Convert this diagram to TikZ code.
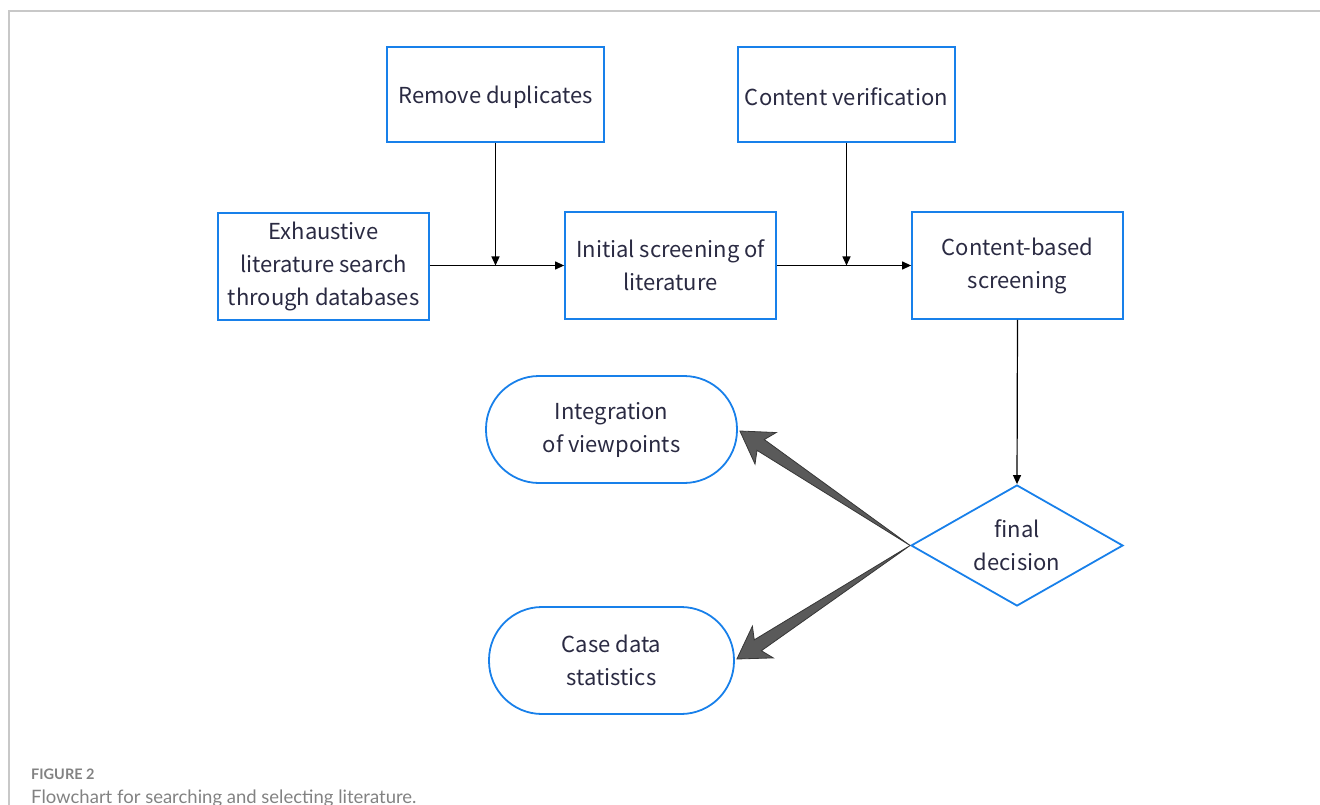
\documentclass[tikz,border=0pt]{standalone}
\usepackage{fontspec}
\newfontfamily\boxfont{Noto Sans CJK SC}
\newfontfamily\capfont{Lato}
\usetikzlibrary{arrows.meta,shapes.geometric,calc}
\definecolor{boxblue}{RGB}{24,128,234}
\definecolor{txt}{RGB}{42,42,66}
\definecolor{framegray}{RGB}{200,200,200}
\definecolor{capgray}{RGB}{130,130,130}
\definecolor{arrfill}{RGB}{90,90,90}
\definecolor{arrline}{RGB}{55,55,55}
\newcommand\fatarrow[3]{% #1 tail, #2 tip, #3 prefix
  \coordinate (#3m) at ($(#2)!31pt!(#1)$);
  \coordinate (#3j) at ($(#2)!25pt!(#1)$);
  \coordinate (#3b1) at ($(#3m)!19pt!90:(#2)$);
  \coordinate (#3b2) at ($(#3m)!19pt!-90:(#2)$);
  \coordinate (#3s1) at ($(#3j)!6.5pt!90:(#2)$);
  \coordinate (#3s2) at ($(#3j)!6.5pt!-90:(#2)$);
  \filldraw[blockarrow] (#1) -- (#3s1) -- (#3b1) -- (#2) -- (#3b2) -- (#3s2) -- cycle;
}
\begin{document}
\begin{tikzpicture}[x=1pt,y=-1pt,
  basefont/.style={text=txt,font=\boxfont\fontsize{22}{33}\selectfont,align=center,inner sep=0pt,
    execute at begin node={\rule{0pt}{23pt}}},
  topbox/.style={basefont,draw=boxblue,line width=1.8pt,minimum width=217pt,minimum height=95pt},
  stepbox/.style={basefont,draw=boxblue,line width=1.8pt,minimum width=211pt,minimum height=107pt},
  stadium/.style={basefont,draw=boxblue,line width=1.8pt,minimum height=107pt,rounded corners=53pt},
  decision/.style={basefont,draw=boxblue,line width=1.8pt,diamond,aspect=1.75,minimum width=212pt,minimum height=121pt},
  conn/.style={draw=black,line width=1.2pt,-{Triangle[length=9pt,width=8pt]}},
  blockarrow/.style={fill=arrfill,draw=arrline,line width=0.8pt,line join=miter},
  framel/.style={draw=framegray,line width=1.4pt},
  caphead/.style={anchor=base west,inner sep=0pt,text=capgray,font=\capfont\bfseries\fontsize{14.5}{17}\selectfont},
  captext/.style={anchor=base west,inner sep=0pt,text=capgray,font=\capfont\fontsize{18.5}{22}\selectfont}]
\useasboundingbox (0,0) rectangle (1320,805);
\coordinate (ftl) at (9,11);
\coordinate (ftr) at (1320,11);
\coordinate (fbl) at (9,805);
\draw[framel] (ftr) -- (ftl) -- (fbl);

\node[topbox] (dup) at (495.5,94.5) {Remove duplicates};
\node[topbox] (ver) at (846.5,94.5) {Content verification};
\node[stepbox] (search) at (323.5,266.5) {Exhaustive\\literature search\\through databases};
\node[stepbox] (init) at (670.5,265.5) {Initial screening of\\literature};
\node[stepbox] (cont) at (1017.5,265.5) {Content-based\\screening};
\node[decision] (dec) at (1017,545.5) {final\\decision};
\node[stadium,minimum width=251pt] (int) at (611.5,429.5) {Integration\\of viewpoints};
\node[stadium,minimum width=245pt] (case) at (611.5,660.5) {Case data\\statistics};

\draw[conn] (search.east |- init.west) -- (init.west);
\draw[conn] (init.east) -- (cont.west);
\draw[conn] (dup.south) -- (dup.south |- init.west);
\draw[conn] (ver.south) -- (ver.south |- init.east);
\draw[conn] (cont.south) -- (dec.north);

\coordinate (tip1) at ($(int.east)+(2,1.5)$);
\coordinate (tip2) at ($(case.east)+(2,-1.5)$);
\fatarrow{dec.west}{tip1}{ua}
\fatarrow{dec.west}{tip2}{la}

\node[caphead] (fig) at (31,779) {FIGURE 2};
\node[captext] (cap) at (31,803) {Flowchart for searching and selecting literature.};
\end{tikzpicture}
\end{document}
